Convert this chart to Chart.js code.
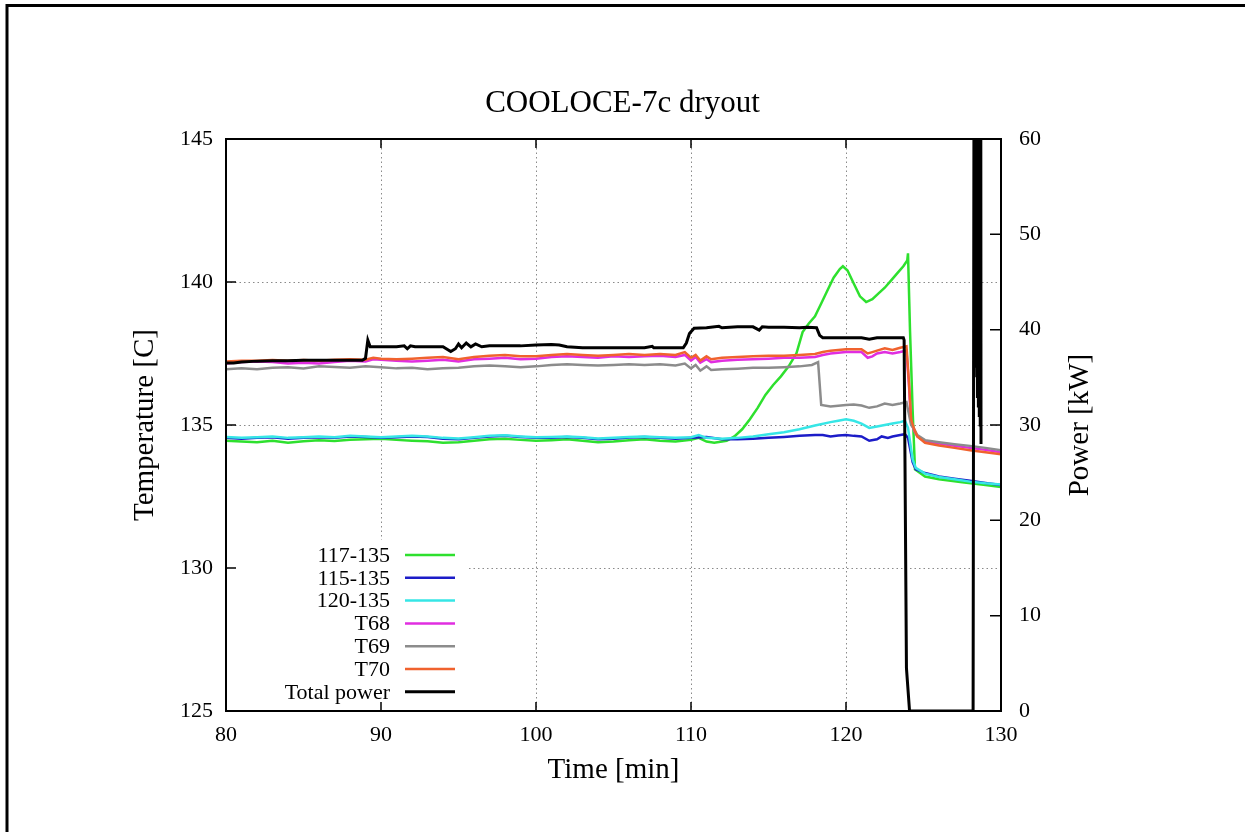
<!DOCTYPE html>
<html>
<head>
<meta charset="utf-8">
<script src="https://cdn.jsdelivr.net/npm/chart.js@4.4.1/dist/chart.umd.min.js"></script>
<style>
html,body{margin:0;padding:0;background:#fff;}
canvas{display:block;}
</style>
</head>
<body>
<canvas id="c" width="1245" height="832"></canvas>
<script>
// ---- data: [time (min), value] ----
const s117 = [[80,134.45],[81,134.42],[82,134.4],[83,134.45],[84,134.38],[85,134.43],[86,134.47],[87,134.44],[88,134.48],[89,134.5],[90,134.52],[91,134.48],[92,134.45],[93,134.43],[94,134.38],[95,134.4],[96,134.45],[97,134.5],[98,134.52],[99,134.48],[100,134.45],[101,134.47],[102,134.5],[103,134.45],[104,134.4],[105,134.42],[106,134.47],[107,134.5],[108,134.45],[109,134.42],[110,134.48],[110.5,134.55],[111,134.42],[111.5,134.38],[112.3,134.45],[112.8,134.6],[113.3,134.85],[113.8,135.2],[114.3,135.6],[114.8,136.05],[115.3,136.4],[115.8,136.7],[116.3,137.05],[116.8,137.5],[117.2,138.25],[117.6,138.55],[118.0,138.8],[118.4,139.25],[118.8,139.7],[119.2,140.15],[119.6,140.45],[119.8,140.55],[120.1,140.4],[120.5,139.95],[120.9,139.5],[121.3,139.3],[121.7,139.4],[122.1,139.6],[122.5,139.8],[122.9,140.05],[123.3,140.3],[123.7,140.55],[123.95,140.75],[124.0,141.0],[124.13,138.3],[124.3,135.5],[124.45,133.45],[125.1,133.2],[126,133.1],[127.5,133.0],[129,132.9],[130,132.83]];
const s115 = [[80,134.55],[81,134.52],[82,134.55],[83,134.57],[84,134.52],[85,134.55],[86,134.57],[87,134.55],[88,134.6],[89,134.58],[90,134.55],[91,134.57],[92,134.6],[93,134.58],[94,134.52],[95,134.5],[96,134.55],[97,134.6],[98,134.62],[99,134.58],[100,134.55],[101,134.55],[102,134.58],[103,134.55],[104,134.5],[105,134.52],[106,134.56],[107,134.58],[108,134.55],[109,134.52],[110,134.55],[111,134.58],[112,134.5],[113,134.5],[114,134.52],[115,134.55],[116,134.58],[117,134.62],[118,134.65],[118.5,134.65],[119,134.6],[119.5,134.63],[120,134.65],[120.5,134.62],[121,134.6],[121.5,134.45],[122,134.5],[122.3,134.6],[122.7,134.55],[123,134.6],[123.5,134.65],[123.8,134.68],[124.0,134.55],[124.3,133.7],[124.5,133.45],[125.1,133.32],[126,133.2],[127,133.12],[128,133.05],[129,132.97],[130,132.9]];
const s120 = [[80,134.58],[81,134.55],[82,134.57],[83,134.6],[84,134.55],[85,134.57],[86,134.6],[87,134.57],[88,134.62],[89,134.6],[90,134.57],[91,134.6],[92,134.62],[93,134.6],[94,134.55],[95,134.53],[96,134.57],[97,134.62],[98,134.64],[99,134.6],[100,134.57],[101,134.58],[102,134.6],[103,134.57],[104,134.53],[105,134.55],[106,134.58],[107,134.6],[108,134.57],[109,134.55],[110,134.57],[110.5,134.65],[111,134.55],[112,134.52],[113,134.55],[114,134.6],[115,134.68],[116,134.75],[117,134.85],[118,134.98],[119,135.1],[119.5,135.15],[120,135.2],[120.5,135.15],[121,135.05],[121.5,134.9],[122,134.95],[122.5,135.0],[123,135.05],[123.5,135.1],[123.8,135.15],[124.0,134.9],[124.3,133.8],[124.5,133.5],[125.1,133.3],[126,133.18],[127,133.1],[128,133.02],[129,132.96],[130,132.92]];
const sT68 = [[80,137.15],[81,137.2],[82,137.22],[83,137.2],[84,137.15],[85,137.18],[86,137.15],[87,137.2],[88,137.25],[89,137.22],[89.5,137.3],[90,137.28],[91,137.25],[92,137.22],[93,137.25],[94,137.28],[95,137.22],[96,137.3],[97,137.32],[98,137.35],[99,137.3],[100,137.32],[101,137.38],[102,137.4],[103,137.38],[104,137.35],[105,137.4],[106,137.38],[107,137.4],[108,137.42],[109,137.38],[109.6,137.45],[110,137.25],[110.3,137.38],[110.6,137.18],[111,137.3],[111.3,137.2],[112,137.25],[113,137.28],[114,137.3],[115,137.32],[116,137.35],[117,137.35],[118,137.38],[118.5,137.45],[119,137.5],[120,137.55],[121,137.55],[121.4,137.35],[121.7,137.4],[122,137.5],[122.5,137.55],[123,137.5],[123.5,137.55],[123.9,137.6],[124.05,136.5],[124.2,135.1],[124.4,134.8],[124.6,134.6],[125.1,134.42],[126,134.35],[127,134.27],[128,134.2],[129,134.13],[130,134.05]];
const sT69 = [[80,136.95],[81,136.98],[82,136.95],[83,137.0],[84,137.02],[85,136.98],[86,137.05],[87,137.03],[88,137.0],[89,137.05],[90,137.02],[91,136.98],[92,137.0],[93,136.95],[94,136.98],[95,137.0],[96,137.05],[97,137.08],[98,137.05],[99,137.02],[100,137.05],[101,137.1],[102,137.12],[103,137.1],[104,137.08],[105,137.1],[106,137.12],[107,137.1],[108,137.12],[109,137.08],[109.6,137.15],[110,136.98],[110.3,137.1],[110.6,136.9],[111,137.05],[111.3,136.92],[112,136.95],[113,136.97],[114,137.0],[115,137.0],[116,137.02],[117,137.05],[117.8,137.1],[118.2,137.2],[118.4,135.7],[119,135.65],[120,135.7],[120.5,135.72],[121,135.68],[121.5,135.6],[122,135.65],[122.5,135.75],[123,135.7],[123.5,135.75],[123.9,135.8],[124.05,135.4],[124.2,135.0],[124.4,134.85],[124.6,134.65],[125.1,134.47],[126,134.4],[127,134.33],[128,134.27],[129,134.2],[130,134.12]];
const sT70 = [[80,137.22],[81,137.25],[82,137.25],[83,137.27],[84,137.25],[85,137.27],[86,137.25],[87,137.28],[88,137.3],[89,137.28],[89.5,137.35],[90,137.32],[91,137.3],[92,137.32],[93,137.35],[94,137.38],[95,137.3],[96,137.38],[97,137.42],[98,137.45],[99,137.4],[100,137.4],[101,137.45],[102,137.48],[103,137.45],[104,137.42],[105,137.45],[106,137.48],[107,137.45],[108,137.48],[109,137.45],[109.6,137.55],[110,137.35],[110.3,137.45],[110.6,137.25],[111,137.4],[111.3,137.3],[112,137.35],[113,137.38],[114,137.4],[115,137.42],[116,137.42],[117,137.45],[118,137.48],[118.5,137.55],[119,137.6],[120,137.65],[121,137.65],[121.4,137.5],[121.7,137.55],[122,137.6],[122.5,137.68],[123,137.62],[123.5,137.7],[123.9,137.75],[124.05,136.6],[124.2,135.2],[124.4,134.85],[124.6,134.6],[125.1,134.38],[126,134.28],[127,134.2],[128,134.12],[129,134.05],[130,133.98]];
const sPower = [[80,36.5],[80.5,36.5],[81,36.6],[82,36.7],[83,36.75],[84,36.75],[85,36.8],[86,36.8],[87,36.8],[88,36.8],[88.8,36.8],[89.0,37.0],[89.15,38.9],[89.3,38.2],[90,38.2],[91,38.2],[91.5,38.3],[91.7,38.0],[91.9,38.3],[92.2,38.2],[93,38.2],[94,38.2],[94.5,37.7],[94.8,38.0],[95.0,38.5],[95.2,38.1],[95.5,38.6],[95.8,38.2],[96.1,38.5],[96.5,38.2],[97,38.3],[98,38.3],[99,38.3],[100,38.4],[101,38.45],[101.5,38.4],[102,38.2],[103,38.1],[104,38.1],[105,38.1],[106,38.1],[107,38.1],[107.5,38.25],[107.6,38.1],[109,38.1],[109.5,38.1],[109.7,38.6],[109.9,39.6],[110.2,40.15],[111,40.2],[111.8,40.35],[112,40.2],[113,40.3],[114,40.3],[114.4,39.95],[114.6,40.3],[115,40.25],[116,40.25],[117,40.2],[117.5,40.25],[118.1,40.2],[118.3,39.4],[118.5,39.15],[119,39.15],[120,39.15],[121,39.15],[121.5,39.0],[122,39.15],[123,39.15],[123.7,39.15],[123.75,38.9],[123.9,4.5],[124.1,0],[128.2,0],[128.27,80],[128.3,40],[128.33,80],[128.36,36],[128.39,80],[128.42,35],[128.45,80],[128.48,33],[128.51,80],[128.54,32],[128.57,80],[128.6,31],[128.63,80],[128.66,30],[128.69,80],[128.71,28]];

const seriesNames = ['117-135','115-135','120-135','T68','T69','T70','Total power'];
const seriesColors = ['#2ee02e','#1c1cc8','#36e6e6','#e02ee0','#8c8c8c','#f0622e','#000000'];
const xTicks = [80,90,100,110,120,130];
const yTicks = [125,130,135,140,145];
const y2Ticks = [0,10,20,30,40,50,60];

const allSeries = [s117,s115,s120,sT68,sT69,sT70,sPower];
const FONT = "'Liberation Serif','Times New Roman',serif";
Chart.defaults.font.family = FONT;
Chart.defaults.color = '#000';

const datasets = allSeries.map((s,i)=>({
  label: seriesNames[i],
  data: s.map(p=>({x:p[0],y:p[1]})),
  borderColor: seriesColors[i],
  backgroundColor: seriesColors[i],
  borderWidth: i===6 ? 3 : 2.5,
  pointRadius: 0,
  tension: 0,
  fill: false,
  yAxisID: i===6 ? 'y2' : 'y',
  order: 6 - i
}));

const gp = {
  id: 'gp',
  afterDraw(chart){
    const {ctx, chartArea:a, scales} = chart;
    ctx.save();
    // legend
    ctx.fillStyle = '#fff';
    ctx.fillRect(a.left+2, 540, 240, a.bottom-2-540);
    ctx.font = '22px ' + FONT;
    ctx.textAlign = 'right';
    ctx.textBaseline = 'middle';
    chart.data.datasets.forEach((d,i)=>{
      const y = 555 + i*22.8;
      ctx.fillStyle = '#000';
      ctx.fillText(d.label, a.left+164, y+1);
      ctx.strokeStyle = d.borderColor;
      ctx.lineWidth = d.borderWidth;
      ctx.beginPath(); ctx.moveTo(a.left+179, y); ctx.lineTo(a.left+229, y); ctx.stroke();
    });
    // plot frame
    ctx.strokeStyle = '#000';
    ctx.lineWidth = 2;
    ctx.strokeRect(a.left, a.top, a.right-a.left, a.bottom-a.top);
    // inward ticks
    ctx.lineWidth = 1.5;
    ctx.beginPath();
    xTicks.forEach(v=>{
      const x = scales.x.getPixelForValue(v);
      ctx.moveTo(x, a.bottom); ctx.lineTo(x, a.bottom-9);
      ctx.moveTo(x, a.top); ctx.lineTo(x, a.top+9);
    });
    yTicks.forEach(v=>{
      const y = scales.y.getPixelForValue(v);
      ctx.moveTo(a.left, y); ctx.lineTo(a.left+10, y);
    });
    y2Ticks.forEach(v=>{
      const y = scales.y2.getPixelForValue(v);
      ctx.moveTo(a.right, y); ctx.lineTo(a.right-11, y);
    });
    ctx.stroke();
    // right axis title (reads bottom to top)
    ctx.save();
    ctx.translate(1080, (a.top+a.bottom)/2);
    ctx.rotate(-Math.PI/2);
    ctx.textAlign = 'center';
    ctx.textBaseline = 'middle';
    ctx.fillStyle = '#000';
    ctx.font = '29px ' + FONT;
    ctx.fillText('Power [kW]', 0, 0);
    ctx.restore();
    // outer picture frame
    ctx.lineWidth = 3;
    ctx.beginPath();
    ctx.moveTo(7, 832); ctx.lineTo(7, 5.5); ctx.lineTo(1245, 5.5);
    ctx.stroke();
    ctx.restore();
  }
};

new Chart(document.getElementById('c'), {
  type: 'line',
  data: { datasets },
  plugins: [gp],
  options: {
    responsive: false,
    devicePixelRatio: 1,
    animation: false,
    layout: { padding: 0 },
    plugins: {
      legend: { display: false },
      tooltip: { enabled: false },
      title: {
        display: true,
        text: 'COOLOCE-7c dryout',
        font: { family: FONT, size: 31, weight: 'normal' },
        color: '#000',
        padding: { top: 85.4, bottom: 16.4 }
      }
    },
    scales: {
      x: {
        type: 'linear', position: 'bottom', min: 80, max: 130,
        afterFit(s){ s.height = 121; },
        afterBuildTicks(s){ s.ticks = xTicks.map(v=>({value:v})); },
        ticks: { font: { size: 22 }, padding: 11, color: '#000', maxRotation: 0 },
        grid: { color: '#8a8a8a', lineWidth: 1, drawTicks: false },
        border: { display: false, dash: [1.5, 3] },
        title: { display: true, text: 'Time [min]', font: { size: 29 }, color: '#000', padding: { top: 0, bottom: 44.6 } }
      },
      y: {
        type: 'linear', position: 'left', min: 125, max: 145,
        afterFit(s){ s.width = 226; },
        afterBuildTicks(s){ s.ticks = yTicks.map(v=>({value:v})); },
        ticks: { font: { size: 22 }, padding: 13, color: '#000' },
        grid: { color: '#8a8a8a', lineWidth: 1, drawTicks: false },
        border: { display: false, dash: [1.5, 3] },
        title: { display: true, text: 'Temperature [C]', font: { size: 29 }, color: '#000', padding: { top: 127.6, bottom: 0 } }
      },
      y2: {
        type: 'linear', position: 'right', min: 0, max: 60,
        afterFit(s){ s.width = 244; },
        afterBuildTicks(s){ s.ticks = y2Ticks.map(v=>({value:v})); },
        ticks: { font: { size: 22 }, padding: 18, color: '#000' },
        grid: { display: false, drawOnChartArea: false, drawTicks: false },
        border: { display: false }
      }
    }
  }
});
</script>
</body>
</html>
